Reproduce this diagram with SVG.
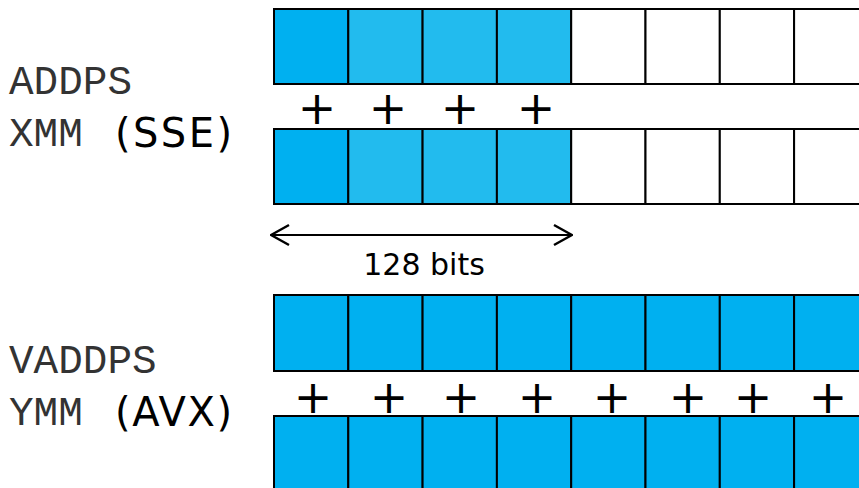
<svg xmlns="http://www.w3.org/2000/svg" width="859" height="488" viewBox="0 0 859 488">
<style>
.c{stroke:#000;stroke-width:2}
.d{fill:#00B0F0}
.l{fill:#22BBEE}
.w{fill:#fff}
.mono{font-family:"Liberation Mono","Courier New",monospace;font-size:41px;fill:#333}
.sans{font-family:"DejaVu Sans",Verdana,sans-serif;fill:#000}
.plus{font-family:"DejaVu Sans",Verdana,sans-serif;font-size:46px;fill:#000;text-anchor:middle}
</style>
<defs>
<marker id="chev" viewBox="0 0 20 24" refX="19" refY="12" markerWidth="20" markerHeight="24" markerUnits="userSpaceOnUse" orient="auto-start-reverse">
<path d="M1,2 L19,12 L1,22" fill="none" stroke="#000" stroke-width="2.5"/>
</marker>
</defs>
<g id="label-sse">
<text class="mono" x="9" y="94">ADDPS</text>
<text class="mono" x="9" y="146">XMM</text>
<text class="sans" x="115" y="147" font-size="40" textLength="117" lengthAdjust="spacing">(SSE)</text>
</g>
<g id="label-avx">
<text class="mono" x="9" y="373">VADDPS</text>
<text class="mono" x="9" y="425">YMM</text>
<text class="sans" x="115" y="426" font-size="40" textLength="117" lengthAdjust="spacing">(AVX)</text>
</g>
<g id="xmm-a">
<rect class="c d" x="274" y="9" width="74.3" height="75"/>
<rect class="c l" x="348.3" y="9" width="74.3" height="75"/>
<rect class="c l" x="422.6" y="9" width="74.3" height="75"/>
<rect class="c l" x="496.9" y="9" width="74.3" height="75"/>
<rect class="c w" x="571.2" y="9" width="74.3" height="75"/>
<rect class="c w" x="645.5" y="9" width="74.3" height="75"/>
<rect class="c w" x="719.8" y="9" width="74.3" height="75"/>
<rect class="c w" x="794.1" y="9" width="74.3" height="75"/>
</g>
<g id="xmm-plus">
<text class="plus" x="317" y="124">+</text>
<text class="plus" x="388" y="124">+</text>
<text class="plus" x="460" y="124">+</text>
<text class="plus" x="536" y="124">+</text>
</g>
<g id="xmm-b">
<rect class="c d" x="274" y="129" width="74.3" height="75"/>
<rect class="c l" x="348.3" y="129" width="74.3" height="75"/>
<rect class="c l" x="422.6" y="129" width="74.3" height="75"/>
<rect class="c l" x="496.9" y="129" width="74.3" height="75"/>
<rect class="c w" x="571.2" y="129" width="74.3" height="75"/>
<rect class="c w" x="645.5" y="129" width="74.3" height="75"/>
<rect class="c w" x="719.8" y="129" width="74.3" height="75"/>
<rect class="c w" x="794.1" y="129" width="74.3" height="75"/>
</g>
<g id="connectors">
<line x1="271" y1="235" x2="572" y2="235" stroke="#000" stroke-width="2" marker-start="url(#chev)" marker-end="url(#chev)"/>
</g>
<g id="width-label">
<text class="sans" x="424" y="275" font-size="30" text-anchor="middle">128 bits</text>
</g>
<g id="ymm-a">
<rect class="c d" x="274" y="295" width="74.3" height="76"/>
<rect class="c d" x="348.3" y="295" width="74.3" height="76"/>
<rect class="c d" x="422.6" y="295" width="74.3" height="76"/>
<rect class="c d" x="496.9" y="295" width="74.3" height="76"/>
<rect class="c d" x="571.2" y="295" width="74.3" height="76"/>
<rect class="c d" x="645.5" y="295" width="74.3" height="76"/>
<rect class="c d" x="719.8" y="295" width="74.3" height="76"/>
<rect class="c d" x="794.1" y="295" width="74.3" height="76"/>
</g>
<g id="ymm-plus">
<text class="plus" x="313" y="413">+</text>
<text class="plus" x="389" y="413">+</text>
<text class="plus" x="461" y="413">+</text>
<text class="plus" x="537" y="413">+</text>
<text class="plus" x="612" y="413">+</text>
<text class="plus" x="688" y="413">+</text>
<text class="plus" x="753" y="413">+</text>
<text class="plus" x="828" y="413">+</text>
</g>
<g id="ymm-b">
<rect class="c d" x="274" y="416" width="74.3" height="80"/>
<rect class="c d" x="348.3" y="416" width="74.3" height="80"/>
<rect class="c d" x="422.6" y="416" width="74.3" height="80"/>
<rect class="c d" x="496.9" y="416" width="74.3" height="80"/>
<rect class="c d" x="571.2" y="416" width="74.3" height="80"/>
<rect class="c d" x="645.5" y="416" width="74.3" height="80"/>
<rect class="c d" x="719.8" y="416" width="74.3" height="80"/>
<rect class="c d" x="794.1" y="416" width="74.3" height="80"/>
</g>
</svg>
